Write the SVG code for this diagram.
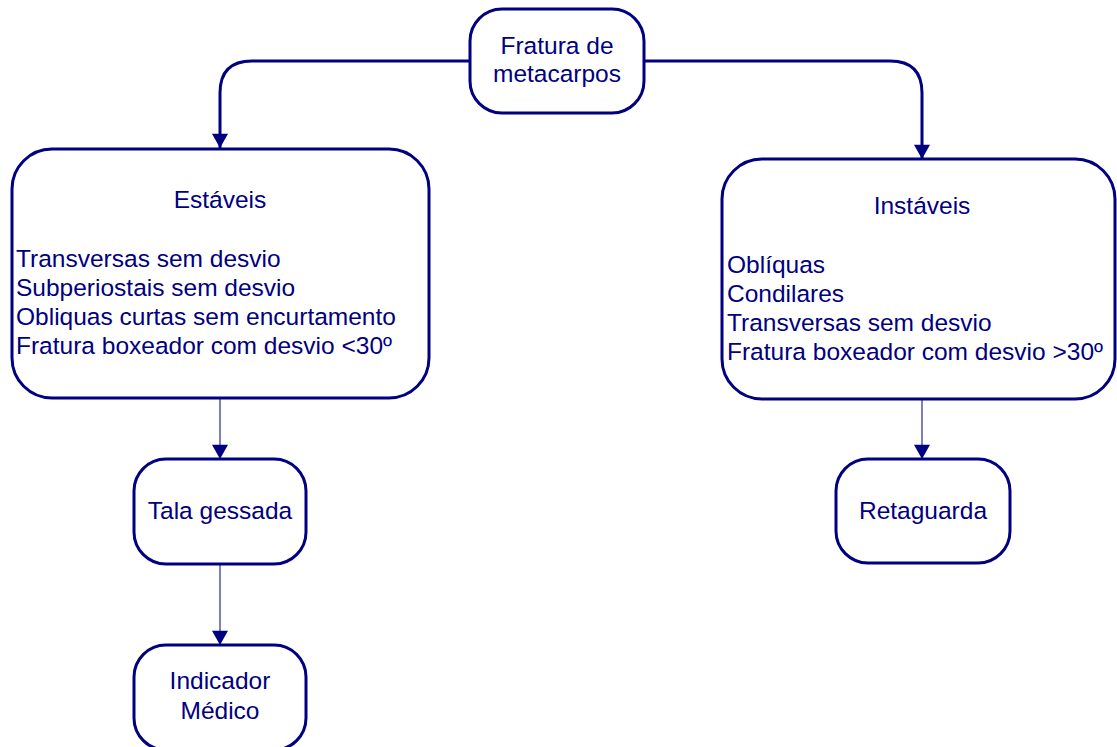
<svg xmlns="http://www.w3.org/2000/svg" width="1117" height="747" viewBox="0 0 1117 747">
<style>
.box{fill:#fff;stroke:#000080;stroke-width:3}
.t{font-family:"Liberation Sans",Arial,sans-serif;font-size:24.5px;fill:#000080}
.c{text-anchor:middle}
.thick{fill:none;stroke:#000080;stroke-width:3}
.thin{fill:none;stroke:#000080;stroke-width:1}
</style>
<defs>
<marker id="ahd" markerUnits="userSpaceOnUse" markerWidth="18" markerHeight="16" refX="16" refY="9" orient="auto" viewBox="0 0 16 18">
<path d="M0,0 L16,9 L0,18 Z" fill="#000080"/>
</marker>
</defs>
<rect width="1117" height="747" fill="#fff"/>
<g id="connectors">
<path class="thick" d="M470,61 H252 Q220,61 220,93 V148" marker-end="url(#ahd)"/>
<path class="thick" d="M644,61 H890 Q922,61 922,93 V159" marker-end="url(#ahd)"/>
<path class="thin" d="M220,398 V459" marker-end="url(#ahd)"/>
<path class="thin" d="M220,564 V645" marker-end="url(#ahd)"/>
<path class="thin" d="M922,399 V459" marker-end="url(#ahd)"/>
</g>
<g id="n-fratura">
<rect class="box" x="470" y="9" width="174" height="104" rx="32"/>
<text class="t c" x="557" y="54">Fratura de</text>
<text class="t c" x="557" y="82">metacarpos</text>
</g>
<g id="n-estaveis">
<rect class="box" x="12" y="149" width="417" height="249" rx="40"/>
<text class="t c" x="220" y="208">Estáveis</text>
<text class="t" x="16" y="267">Transversas sem desvio</text>
<text class="t" x="16" y="296">Subperiostais sem desvio</text>
<text class="t" x="16" y="325">Obliquas curtas sem encurtamento</text>
<text class="t" x="16" y="354">Fratura boxeador com desvio &lt;30º</text>
</g>
<g id="n-instaveis">
<rect class="box" x="722" y="159" width="393" height="240" rx="40"/>
<text class="t c" x="922" y="214">Instáveis</text>
<text class="t" x="727" y="273">Oblíquas</text>
<text class="t" x="727" y="302">Condilares</text>
<text class="t" x="727" y="331">Transversas sem desvio</text>
<text class="t" x="727" y="360">Fratura boxeador com desvio &gt;30º</text>
</g>
<g id="n-tala">
<rect class="box" x="134" y="459" width="172" height="105" rx="32"/>
<text class="t c" x="220" y="519">Tala gessada</text>
</g>
<g id="n-indicador">
<rect class="box" x="134" y="645" width="172" height="105" rx="32"/>
<text class="t c" x="220" y="689">Indicador</text>
<text class="t c" x="220" y="719">Médico</text>
</g>
<g id="n-retaguarda">
<rect class="box" x="836" y="459" width="174" height="104" rx="32"/>
<text class="t c" x="923" y="519">Retaguarda</text>
</g>
</svg>
